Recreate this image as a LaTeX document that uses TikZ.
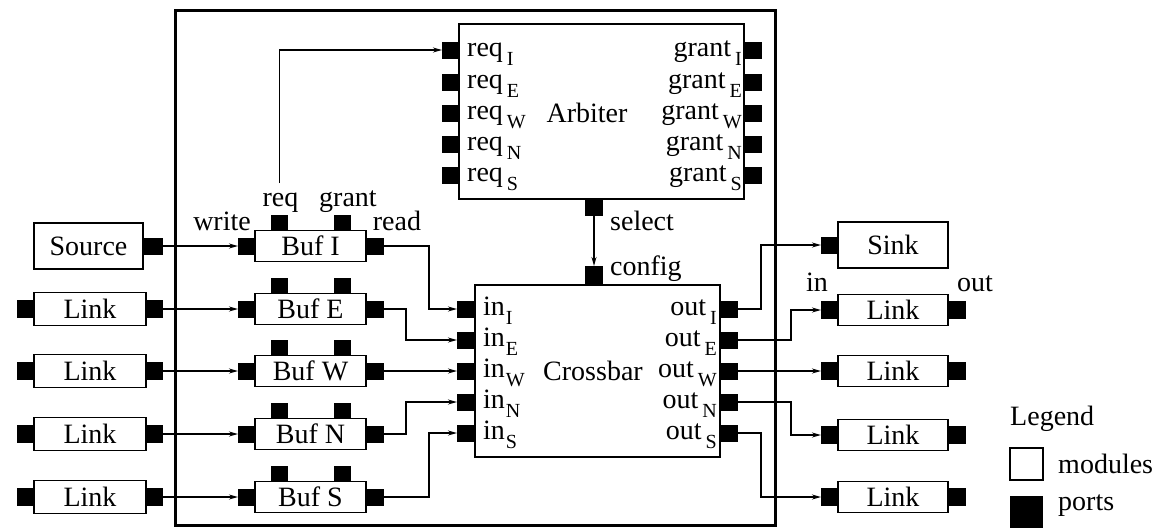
\documentclass[tikz,border=0pt]{standalone}
\usepackage{fontspec}
\setmainfont{Liberation Serif}
\usetikzlibrary{arrows.meta}
\newcommand{\msub}[1]{\raisebox{-9pt}{\fontsize{20}{20}\selectfont #1}}
\begin{document}
\begin{tikzpicture}[x=1pt,y=-1pt,
  every node/.style={font=\fontsize{28}{30}\selectfont, inner sep=0pt},
  module/.style={draw, line width=1.3pt, fill=white, inner sep=0pt},
  port/.style={fill=black, draw=none, inner sep=0pt, minimum width=17pt, minimum height=17pt},
  conn/.style={line width=1.2pt, -{Stealth[length=9pt,width=5pt]}},
  lbl/.style={inner sep=0pt}]
\useasboundingbox (0,0) rectangle (1158,528);

% router frame
\node[draw, line width=3pt, minimum width=600pt, minimum height=515pt] (router) at (475,267.5) {};

% Source
\node[module, minimum width=109pt, minimum height=46pt] (src) at (88.5,246) {Source};
\node[port, minimum width=19pt, anchor=west] (srcout) at (src.east) {};

% Left links
\foreach \n/\y in {E/309, W/371, N/434, S/497} {
  \node[module, minimum width=112pt, minimum height=33pt] (ll\n) at (90,\y) {Link};
  \node[port, minimum width=16pt, minimum height=18pt, anchor=east] (llin\n) at (ll\n.west) {};
  \node[port, minimum width=16pt, minimum height=18pt, anchor=west] (llout\n) at (ll\n.east) {};
}

% Buffers
\foreach \n/\y in {I/246, E/309, W/371, N/434, S/497} {
  \node[module, minimum width=111pt, minimum height=31pt] (buf\n) at (310.5,\y) {Buf \n};
  \node[port, minimum width=16pt, anchor=east] (bufw\n) at (buf\n.west) {};
  \node[port, anchor=west] (bufr\n) at (buf\n.east) {};
  \node[port, minimum height=15pt, anchor=south] (bufq\n) at (279.5,{\y-15.5}) {};
  \node[port, minimum height=15pt, anchor=south] (bufg\n) at (342,{\y-15.5}) {};
}

% Buffer labels
\node[lbl, anchor=base east] (lwrite) at (251,230) {write};
\node[lbl, anchor=base] (lreq) at (280.5,206) {req};
\node[lbl, anchor=base] (lgrant) at (348,206) {grant};
\node[lbl, anchor=base] (lread) at (397,230) {read};

% Arbiter
\node[module, minimum width=285pt, minimum height=175pt] (arb) at (601.5,111.5) {};
\node[lbl] (arbtxt) at (587,113) {Arbiter};
\foreach \n/\y in {I/50, E/82, W/113, N/144, S/175} {
  \node[port, minimum width=16pt, anchor=east] (arbq\n) at (arb.west |- 0,\y) {};
  \node[port, anchor=west] (arbg\n) at (arb.east |- 0,\y) {};
  \node[lbl, anchor=base west] (arbql\n) at (467,{\y+6}) {req\kern4pt\msub{\n}};
  \node[lbl, anchor=base east] (arbgl\n) at (742,{\y+6}) {grant\kern4pt\msub{\n}};
}
\node[port, minimum width=18pt, minimum height=16pt, anchor=north] (sel) at (arb.south -| 594,0) {};
\node[lbl, anchor=base west] (lsel) at (610,230) {select};

% Crossbar
\node[module, minimum width=245pt, minimum height=172pt] (xbar) at (597.5,371) {};
\node[lbl] (xbartxt) at (593,371) {Crossbar};
\node[port, minimum width=18pt, minimum height=18pt, anchor=south] (cfg) at (xbar.north -| 594,0) {};
\node[lbl, anchor=base west] (lcfg) at (610,275) {config};
\foreach \n/\y in {I/309, E/340, W/371, N/402, S/433} {
  \node[port, anchor=east] (xi\n) at (xbar.west |- 0,\y) {};
  \node[port, anchor=west] (xo\n) at (xbar.east |- 0,\y) {};
  \node[lbl, anchor=base west] (xil\n) at (483,{\y+6}) {in\kern1pt\msub{\n}};
  \node[lbl, anchor=base east] (xol\n) at (717,{\y+6}) {out\kern4pt\msub{\n}};
}

% Sink and right links
\node[module, minimum width=110pt, minimum height=46pt] (sink) at (893,245) {Sink};
\node[port, minimum width=16pt, anchor=east] (sinkin) at (sink.west) {};
\foreach \n/\y in {E/310, W/371, N/435, S/497} {
  \node[module, minimum width=110pt, minimum height=31pt] (rl\n) at (893,\y) {Link};
  \node[port, minimum width=16pt, minimum height=18pt, anchor=east] (rlin\n) at (rl\n.west) {};
  \node[port, minimum width=17pt, minimum height=18pt, anchor=west] (rlout\n) at (rl\n.east) {};
}
\node[lbl, anchor=base] (lin) at (817,291) {in};
\node[lbl, anchor=base] (lout) at (975,291) {out};

% Legend
\node[lbl, anchor=base west] (leg) at (1010,425) {Legend};
\node[module, minimum width=33pt, minimum height=32pt] (legmod) at (1026.5,464) {};
\node[lbl, anchor=base west] (legmodt) at (1058,473) {modules};
\node[port, minimum width=33pt, minimum height=32pt] (legport) at (1026.5,512) {};
\node[lbl, anchor=base west] (legportt) at (1058,510) {ports};

% Connectors: inputs to buffers
\draw[conn] (srcout.east) -- (bufwI.west);
\foreach \n in {E,W,N,S} { \draw[conn] (llout\n.east) -- (bufw\n.west); }

% req to arbiter
\coordinate (reqtop) at (279.5,183);
\draw[conn] (reqtop) |- (arbqI.west);

% select to config
\draw[conn] (sel.south) -- (cfg.north);

% buffers to crossbar
\draw[conn] (bufrI.east) -- ++(45,0) |- (xiI.west);
\draw[conn] (bufrE.east) -- ++(22,0) |- (xiE.west);
\draw[conn] (bufrW.east) -- (xiW.west);
\draw[conn] (bufrN.east) -- ++(22,0) |- (xiN.west);
\draw[conn] (bufrS.east) -- ++(45,0) |- (xiS.west);

% crossbar to outputs
\draw[conn] (xoI.east) -- ++(23,0) |- (sinkin.west);
\draw[conn] (xoE.east) -- ++(53,0) |- (rlinE.west);
\draw[conn] (xoW.east) -- (rlinW.west);
\draw[conn] (xoN.east) -- ++(53,0) |- (rlinN.west);
\draw[conn] (xoS.east) -- ++(23,0) |- (rlinS.west);
\end{tikzpicture}
\end{document}
